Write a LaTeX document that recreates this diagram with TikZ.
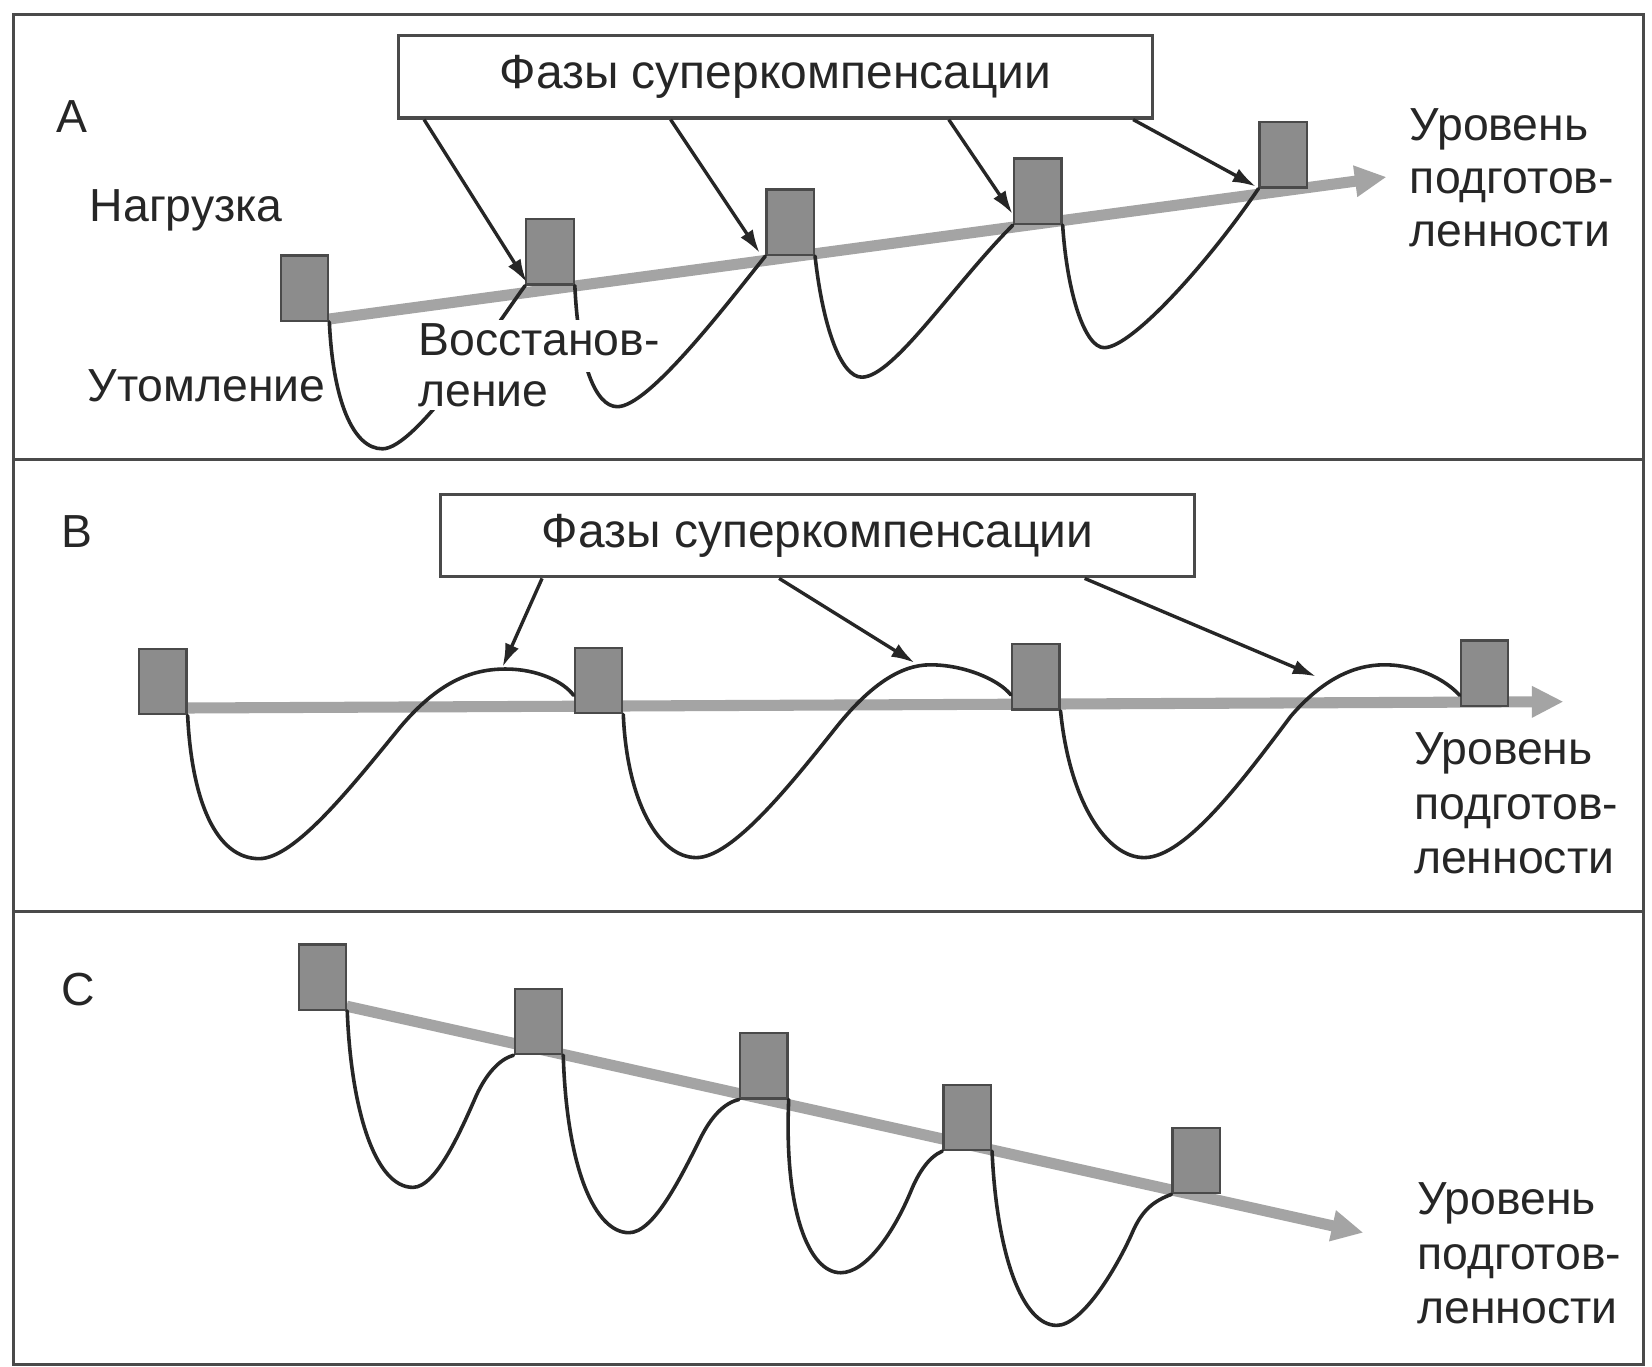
\documentclass[tikz,border=0pt]{standalone}
\usepackage{fontspec}
\setmainfont{Liberation Sans}
\usetikzlibrary{arrows.meta,calc}
\definecolor{ink}{HTML}{262626}
\definecolor{sqfill}{HTML}{8C8C8C}
\definecolor{sqdraw}{HTML}{4A4A4A}
\definecolor{trend}{HTML}{A4A4A4}
\begin{document}
\begin{tikzpicture}[x=1pt,y=-1pt,
  lbl/.style={font=\fontsize{44}{50.5}\selectfont, text=ink, inner sep=0pt},
  sq/.style={draw=sqdraw, fill=sqfill, line width=2.2pt, minimum width=45pt, minimum height=62pt, inner sep=0pt},
  trendline/.style={draw=trend, line width=10.5pt, -{Triangle[length=30pt,width=28pt]}},
  wave/.style={draw=ink, line width=3.4pt, line cap=round, line join=round},
  ptr/.style={draw=ink, line width=3.2pt, -{Latex[length=22pt,width=14pt]}},
  phasebox/.style={draw=sqdraw, line width=3pt, fill=white, minimum width=716pt, minimum height=78pt, inner sep=0pt, font=\fontsize{45.5}{50.5}\selectfont, text=ink},
  frame/.style={draw=sqdraw, line width=3.2pt}
]
\useasboundingbox (0,0) rectangle (1568,1297);
\fill[white] (0,0) rectangle (1568,1297);
% frame
\draw[frame] (13,14) rectangle (1560,1295);
\draw[frame] (13,436) -- (1560,436);
\draw[frame] (13,865) -- (1560,865);

% ---------- Panel A ----------
\coordinate (tA0) at (311,303);
\coordinate (tA1) at (1316,168);
\draw[trendline] (tA0) -- (tA1);
\node[sq] (sqA1) at (289,273.5) {};
\node[sq] (sqA2) at (522,239) {};
\node[sq] (sqA3) at (750,211) {};
\node[sq] (sqA4) at (985,181.5) {};
\node[sq] (sqA5) at (1218,147) {};
\draw[wave] (sqA1.south east) .. controls (316,380) and (335,426) .. (363,426)
  .. controls (395,426) and (470,310) .. (sqA2.south west);
\draw[wave] (sqA2.south east) .. controls (549,345) and (565,386) .. (586,386)
  .. controls (615,386) and (685,295) .. (sqA3.south west);
\draw[wave] (sqA3.south east) .. controls (781,310) and (798,358) .. (818,358)
  .. controls (848,358) and (905,270) .. (sqA4.south west);
\draw[wave] (sqA4.south east) .. controls (1013,280) and (1030,330) .. (1048,330)
  .. controls (1075,330) and (1150,245) .. (sqA5.south west);
\node[phasebox] (boxA) at (736,73) {Фазы суперкомпенсации};
\coordinate (a1t) at (500,268);
\coordinate (a2t) at (721,240);
\coordinate (a3t) at (961,203);
\coordinate (a4t) at (1192,177);
\draw[ptr] ($(boxA.south west)+(26,0)$) -- (a1t);
\draw[ptr] ($(boxA.south west)+(260,0)$) -- (a2t);
\draw[ptr] ($(boxA.south west)+(524,0)$) -- (a3t);
\draw[ptr] ($(boxA.south west)+(699,0)$) -- (a4t);
\node[lbl, anchor=base west] (labA) at (53,126) {A};
\node[lbl, anchor=base west] (load) at (85,210.5) {Нагрузка};
\node[lbl, anchor=base west] (fat) at (83,381.5) {Утомление};
\node[lbl, anchor=base west, fill=white, inner xsep=1pt, inner ysep=3pt, text depth=13pt] (rec1) at (396,337) {Восстанов-};
\node[lbl, anchor=base west, fill=white, inner xsep=1pt, inner ysep=3pt, text height=31pt] (rec2) at (396,386) {ление};
\node[lbl, anchor=base west] (lvA1) at (1338,133) {Уровень};
\node[lbl, anchor=base west] (lvA2) at (1338,183.5) {подготов-};
\node[lbl, anchor=base west] (lvA3) at (1338,234) {ленности};

% ---------- Panel B ----------
\coordinate (tB0) at (177,672);
\coordinate (tB1) at (1484,666);
\draw[trendline] (tB0) -- (tB1);
\node[sq] (sqB1) at (154.5,647) {};
\node[sq] (sqB2) at (568,646) {};
\node[sq] (sqB3) at (983,642.5) {};
\node[sq] (sqB4) at (1409,639) {};
\draw[wave] (sqB1.south east) .. controls (182,760) and (205,815) .. (246,815)
  .. controls (280,815) and (335,745) .. (380,690)
  .. controls (418,645) and (450,635) .. (480,635)
  .. controls (510,635) and (535,647) .. ($(sqB2.west)+(0,14)$);
\draw[wave] (sqB2.south east) .. controls (595,760) and (625,814) .. (661,814)
  .. controls (695,814) and (750,745) .. (790,695)
  .. controls (825,650) and (855,631) .. (883,631)
  .. controls (915,631) and (948,645) .. ($(sqB3.west)+(0,17)$);
\draw[wave] (sqB3.south east) .. controls (1015,760) and (1050,814) .. (1086,814)
  .. controls (1125,814) and (1180,740) .. (1225,680)
  .. controls (1255,645) and (1285,631) .. (1314,631)
  .. controls (1345,631) and (1372,645) .. ($(sqB4.west)+(0,21)$);
\node[phasebox] (boxB) at (776,508.5) {Фазы суперкомпенсации};
\coordinate (b1t) at (477,633);
\coordinate (b2t) at (868,629);
\coordinate (b3t) at (1249,642);
\draw[ptr] ($(boxB.south west)+(98,0)$) -- (b1t);
\draw[ptr] ($(boxB.south west)+(323,0)$) -- (b2t);
\draw[ptr] ($(boxB.south west)+(613,0)$) -- (b3t);
\node[lbl, anchor=base west] (labB) at (58,520) {B};
\node[lbl, anchor=base west] (lvB1) at (1342,726) {Уровень};
\node[lbl, anchor=base west] (lvB2) at (1342,777.5) {подготов-};
\node[lbl, anchor=base west] (lvB3) at (1342,829) {ленности};

% ---------- Panel C ----------
\coordinate (tC0) at (329,955);
\coordinate (tC1) at (1294,1170);
\draw[trendline] (tC0) -- (tC1);
\node[sq] (sqC1) at (306,927.5) {};
\node[sq] (sqC2) at (511,969.5) {};
\node[sq] (sqC3) at (725,1011.5) {};
\node[sq] (sqC4) at (918,1060.5) {};
\node[sq] (sqC5) at (1135.5,1101.5) {};
\draw[wave] (sqC1.south east) .. controls (333,1050) and (355,1127) .. (392,1127)
  .. controls (414,1127) and (438,1072) .. (452,1040)
  .. controls (462,1018) and (475,1005) .. (sqC2.south west);
\draw[wave] (sqC2.south east) .. controls (538,1110) and (565,1170) .. (597,1170)
  .. controls (620,1170) and (645,1120) .. (665,1080)
  .. controls (675,1060) and (687,1047) .. (sqC3.south west);
\draw[wave] (sqC3.south east) .. controls (744,1150) and (768,1208) .. (798,1208)
  .. controls (822,1208) and (848,1170) .. (864,1132)
  .. controls (872,1112) and (882,1098) .. (sqC4.south west);
\draw[wave] (sqC4.south east) .. controls (946,1190) and (970,1258) .. (1003,1258)
  .. controls (1028,1258) and (1062,1200) .. (1076,1167)
  .. controls (1085,1148) and (1095,1140) .. (sqC5.south west);
\node[lbl, anchor=base west] (labC) at (58,954) {C};
\node[lbl, anchor=base west] (lvC1) at (1345,1153) {Уровень};
\node[lbl, anchor=base west] (lvC2) at (1345,1204.5) {подготов-};
\node[lbl, anchor=base west] (lvC3) at (1345,1256) {ленности};
\end{tikzpicture}
\end{document}
